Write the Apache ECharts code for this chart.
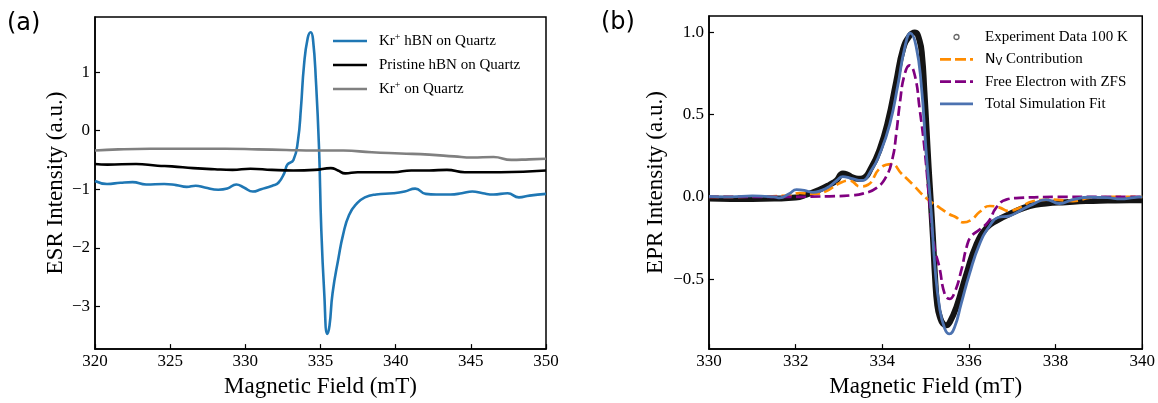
<!DOCTYPE html>
<html>
<head>
<meta charset="utf-8">
<script src="https://cdn.jsdelivr.net/npm/echarts@6/dist/echarts.min.js"></script>
<style>
  html, body { margin: 0; padding: 0; background: #fff; }
  #chart { width: 1158px; height: 403px; }
</style>
</head>
<body>
<div id="chart"></div>
<script>
// ---------- Panel (a): ESR spectra on quartz ----------
const fieldKrHbn = [320, 320.8, 321.7, 322.5, 323.4, 324.6, 325.4, 326.1, 326.7, 327.3,
  328.2, 328.8, 329.4, 329.9, 330.5, 331.05, 331.8, 332.2, 332.6, 332.8,
  333.2, 333.5, 333.7, 333.9, 334.15, 334.35, 334.5, 334.7, 334.9, 335.05,
  335.25, 335.45, 335.6, 335.8, 336.2, 336.5, 336.9, 337.4, 337.95, 338.7,
  339.85, 340.6, 341.3, 342.0, 342.7, 343.65, 344.4, 345.1, 345.8, 346.5,
  347.45, 348.2, 348.9, 350];
const esrKrHbn = [-0.86, -0.91, -0.89, -0.88, -0.92, -0.91, -0.93, -0.96, -0.94, -0.97,
  -1.01, -0.99, -0.92, -0.97, -1.04, -1.0, -0.94, -0.89, -0.72, -0.58,
  -0.50, -0.17, 0.39, 1.11, 1.58, 1.68, 1.56, 0.83, -0.28, -1.67,
  -2.78, -3.47, -3.33, -2.78, -2.17, -1.78, -1.44, -1.25, -1.14, -1.09,
  -1.07, -1.04, -0.99, -1.08, -1.09, -1.09, -1.07, -1.04, -1.07, -1.09,
  -1.07, -1.14, -1.11, -1.08];

const fieldPristine = [320, 320.83, 322.73, 324.16, 325.11, 326.54, 327.96, 329.15, 330.34, 331.77,
  333.19, 334.62, 335.69, 336.16, 336.64, 337.47, 338.90, 339.85, 341.04, 342.23,
  343.41, 344.60, 346.98, 350];
const esrPristine = [-0.57, -0.58, -0.57, -0.60, -0.61, -0.64, -0.66, -0.67, -0.65, -0.67,
  -0.68, -0.67, -0.64, -0.68, -0.73, -0.71, -0.71, -0.71, -0.68, -0.68,
  -0.67, -0.71, -0.71, -0.68];

const fieldKrQuartz = [320, 321.55, 323.68, 326.06, 328.68, 330.82, 332.72, 334.62, 336.52, 338.42,
  340.33, 342.23, 343.89, 345.08, 346.51, 347.69, 348.88, 350];
const esrKrQuartz = [-0.34, -0.32, -0.31, -0.31, -0.31, -0.32, -0.33, -0.34, -0.34, -0.37,
  -0.39, -0.41, -0.44, -0.46, -0.45, -0.50, -0.49, -0.48];

const ticksA_y = [-3, -2, -1, 0, 1];

// ---------- Panel (b): EPR at 100 K with simulated components ----------
const fieldExp = [330.0, 330.5, 331.0, 331.5, 332.0, 332.25, 332.55, 332.78, 332.94, 333.09,
  333.2, 333.28, 333.44, 333.55, 333.75, 333.94, 334.13, 334.32, 334.48, 334.63,
  334.75, 334.86, 334.92, 334.97, 335.02, 335.07, 335.12, 335.17, 335.22, 335.27,
  335.33, 335.40, 335.48, 335.56, 335.71, 335.94, 336.17, 336.40, 336.63, 337.01,
  337.40, 337.78, 338.24, 338.7, 339.2, 339.7, 340.0];
const eprExp = [-0.01, -0.012, -0.012, -0.01, -0.004, 0.014, 0.044, 0.074, 0.10, 0.143,
  0.135, 0.123, 0.11, 0.113, 0.18, 0.29, 0.46, 0.70, 0.90, 0.98,
  1.0, 0.95, 0.85, 0.65, 0.42, 0.18, -0.03, -0.25, -0.5, -0.66,
  -0.73, -0.77, -0.78, -0.76, -0.67, -0.47, -0.29, -0.19, -0.145, -0.095,
  -0.055, -0.04, -0.032, -0.025, -0.022, -0.02, -0.02];

const fieldNv = [330.0, 331.0, 331.8, 332.1, 332.4, 332.7, 333.01, 333.25, 333.48, 333.67,
  333.94, 334.21, 334.44, 334.71, 335.01, 335.32, 335.55, 335.71, 335.86, 336.05,
  336.25, 336.48, 336.71, 336.90, 337.17, 337.47, 337.94, 338.4, 338.8, 339.5, 340.0];
const eprNv = [0.0, 0.002, 0.008, 0.024, 0.018, 0.035, 0.083, 0.10, 0.064, 0.074,
  0.173, 0.20, 0.143, 0.074, -0.006, -0.065, -0.105, -0.125, -0.155, -0.14,
  -0.09, -0.055, -0.065, -0.085, -0.065, -0.026, -0.016, -0.025, -0.005, 0.0, 0.0];

const fieldZfs = [330.0, 331.5, 332.78, 333.3, 333.55, 333.86, 334.09, 334.24, 334.32, 334.41,
  334.51, 334.63, 334.75, 334.86, 334.98, 335.09, 335.2, 335.32, 335.44, 335.55,
  335.67, 335.82, 335.95, 336.05, 336.24, 336.45, 336.63, 336.86, 337.17, 338.0, 340.0];
const eprZfs = [0.0, 0.0, 0.004, 0.01, 0.02, 0.054, 0.123, 0.24, 0.38, 0.58,
  0.74, 0.80, 0.74, 0.54, 0.28, -0.036, -0.3, -0.43, -0.59, -0.62,
  -0.58, -0.45, -0.3, -0.24, -0.20, -0.15, -0.065, -0.016, -0.006, 0.0, 0.0];

const fieldFit = [330.0, 330.5, 331.0, 331.5, 331.63, 331.85, 332.02, 332.2, 332.4, 332.6,
  332.78, 332.95, 333.09, 333.28, 333.52, 333.75, 333.94, 334.17, 334.36, 334.51,
  334.65, 334.78, 334.90, 335.01, 335.13, 335.21, 335.32, 335.44, 335.55, 335.67,
  335.82, 336.01, 336.24, 336.48, 336.67, 336.94, 337.17, 337.47, 337.78, 338.09,
  338.40, 338.8, 339.2, 339.5, 339.8, 340.0];
const eprFit = [0.004, 0.0, 0.006, 0.0, -0.006, 0.02, 0.044, 0.04, 0.028, 0.04,
  0.064, 0.10, 0.123, 0.113, 0.10, 0.163, 0.262, 0.44, 0.68, 0.897,
  0.996, 0.917, 0.68, 0.282, -0.095, -0.41, -0.67, -0.80, -0.833, -0.79,
  -0.65, -0.47, -0.29, -0.175, -0.125, -0.115, -0.085, -0.045, -0.016, -0.04,
  -0.016, -0.002, -0.004, -0.012, -0.004, 0.0];

const ticksB_y = [-0.5, 0.0, 0.5, 1.0];

// ---------- styling helpers ----------
const SERIF = '"Liberation Serif", "Times New Roman", serif';
const SANS = '"DejaVu Sans", sans-serif';
const pairs = (xs, ys) => xs.map((x, i) => [x, ys[i]]);
const withMinus = s => s.replace('-', '\u2212');

function xAxisFor(grid, lo, hi, step, gap) {
  return {
    type: 'value', gridIndex: grid, min: lo, max: hi, interval: step,
    name: 'Magnetic Field (mT)', nameLocation: 'middle', nameGap: gap,
    nameTextStyle: { fontFamily: SERIF, fontSize: 23, color: '#000' },
    axisLine: { show: true, onZero: false, lineStyle: { color: '#000', width: 1.5 } },
    axisTick: { show: true, inside: true, length: 5, lineStyle: { color: '#000', width: 1.2 } },
    axisLabel: { fontFamily: SERIF, fontSize: 17, color: '#000', margin: 4 },
    splitLine: { show: false }
  };
}
function yAxisFor(grid, lo, hi, ticks, digits, title, gap) {
  const fmt = v => withMinus(Number(v).toFixed(digits));
  return {
    type: 'value', gridIndex: grid, min: lo, max: hi,
    name: title, nameLocation: 'middle', nameGap: gap, nameRotate: 90,
    nameTextStyle: { fontFamily: SERIF, fontSize: 23, color: '#000' },
    axisLine: { show: true, onZero: false, lineStyle: { color: '#000', width: 1.5 } },
    axisTick: { show: true, inside: true, length: 5, customValues: ticks,
      lineStyle: { color: '#000', width: 1.2 } },
    axisLabel: { fontFamily: SERIF, fontSize: 17, color: '#000', margin: 5,
      customValues: ticks, formatter: fmt },
    splitLine: { show: false }
  };
}
function lineSeries(name, xi, data, color, width, dashed, z) {
  return {
    name, type: 'line', xAxisIndex: xi, yAxisIndex: xi, data,
    symbol: 'none', smooth: 0.5, z,
    color,
    lineStyle: { color, width, type: dashed ? [10, 4.5] : 'solid', cap: 'butt', join: 'round' },
    emphasis: { disabled: true }
  };
}

const legendRich = {
  t: { fontFamily: SERIF, fontSize: 15, lineHeight: 18, color: '#000' },
  sup: { fontFamily: SERIF, fontSize: 10, lineHeight: 10, padding: [0, 0, 8, 0], color: '#000' },
  ns: { fontFamily: SANS, fontSize: 14, lineHeight: 18, color: '#000' },
  sub: { fontFamily: SANS, fontSize: 10, lineHeight: 12, padding: [6, 0, 0, 0], color: '#000' }
};
const legendLabels = {
  'Kr+ hBN on Quartz': '{t|Kr}{sup|+}{t| hBN on Quartz}',
  'Pristine hBN on Quartz': '{t|Pristine hBN on Quartz}',
  'Kr+ on Quartz': '{t|Kr}{sup|+}{t| on Quartz}',
  'Experiment Data 100 K': '{t|Experiment Data 100 K}',
  'NV Contribution': '{ns|N}{sub|V}{t| Contribution}',
  'Free Electron with ZFS': '{t|Free Electron with ZFS}',
  'Total Simulation Fit': '{t|Total Simulation Fit}'
};
const SOLID_ICON_A = 'path://M0,0h34v2.6h-34z';
const SOLID_ICON_B = 'path://M0,0h33v2.8h-33z';
const DASH_ICON = 'path://M0,0h11v2.8h-11zM15,0h11v2.8h-11zM30,0h3v2.8h-3z';

const C = {
  krHbn: '#1f77b4', pristine: '#000000', krQuartz: '#808080',
  exp: '#141414', nv: '#ff8c00', zfs: '#800080', fit: '#4c72b0'
};

const option = {
  backgroundColor: '#fff',
  animation: false,
  title: [
    { text: '(a)', left: 7, top: 12, padding: 0,
      textStyle: { fontFamily: SANS, fontSize: 24, fontWeight: 'normal', color: '#000', lineHeight: 24 } },
    { text: '(b)', left: 601, top: 11, padding: 0,
      textStyle: { fontFamily: SANS, fontSize: 24, fontWeight: 'normal', color: '#000', lineHeight: 24 } }
  ],
  grid: [
    { left: 95, top: 17, width: 451, height: 340, show: true, borderColor: '#000', borderWidth: 1.5 },
    { left: 709, top: 16, width: 434, height: 340, show: true, borderColor: '#000', borderWidth: 1.5 }
  ],
  xAxis: [
    xAxisFor(0, 320, 350, 5, 22),
    xAxisFor(1, 330, 340, 2, 22)
  ],
  yAxis: [
    yAxisFor(0, -3.73, 1.94, ticksA_y, 0, 'ESR Intensity (a.u.)', 28),
    yAxisFor(1, -0.925, 1.10, ticksB_y, 1, 'EPR Intensity (a.u.)', 42)
  ],
  legend: [
    {
      orient: 'vertical', left: 333, top: 32, padding: 0, itemGap: 6,
      itemWidth: 34, itemHeight: 5, selectedMode: false,
      formatter: n => legendLabels[n],
      textStyle: { fontFamily: SERIF, fontSize: 15, lineHeight: 18, color: '#000',
        padding: [0, 0, 0, 7], rich: legendRich },
      data: [
        { name: 'Kr+ hBN on Quartz', icon: SOLID_ICON_A, itemStyle: { color: C.krHbn, borderWidth: 0 } },
        { name: 'Pristine hBN on Quartz', icon: SOLID_ICON_A, itemStyle: { color: C.pristine, borderWidth: 0 } },
        { name: 'Kr+ on Quartz', icon: SOLID_ICON_A, itemStyle: { color: C.krQuartz, borderWidth: 0 } }
      ]
    },
    {
      orient: 'vertical', left: 940, top: 28, padding: 0, itemGap: 4.3,
      itemWidth: 33, itemHeight: 5, selectedMode: false,
      formatter: n => legendLabels[n],
      textStyle: { fontFamily: SERIF, fontSize: 15, lineHeight: 18, color: '#000',
        padding: [0, 0, 0, 7], rich: legendRich },
      data: [
        { name: 'Experiment Data 100 K', icon: 'circle',
          itemStyle: { color: '#fff', borderColor: '#666', borderWidth: 1.3 } },
        { name: 'NV Contribution', icon: DASH_ICON, itemStyle: { color: C.nv, borderWidth: 0 } },
        { name: 'Free Electron with ZFS', icon: DASH_ICON, itemStyle: { color: C.zfs, borderWidth: 0 } },
        { name: 'Total Simulation Fit', icon: SOLID_ICON_B, itemStyle: { color: C.fit, borderWidth: 0 } }
      ]
    }
  ],
  series: [
    lineSeries('Kr+ hBN on Quartz', 0, pairs(fieldKrHbn, esrKrHbn), C.krHbn, 2.6, false, 2),
    lineSeries('Pristine hBN on Quartz', 0, pairs(fieldPristine, esrPristine), C.pristine, 2.6, false, 3),
    lineSeries('Kr+ on Quartz', 0, pairs(fieldKrQuartz, esrKrQuartz), C.krQuartz, 2.6, false, 4),
    lineSeries('Experiment Data 100 K', 1, pairs(fieldExp, eprExp), C.exp, 6, false, 2),
    lineSeries('NV Contribution', 1, pairs(fieldNv, eprNv), C.nv, 2.7, true, 3),
    lineSeries('Free Electron with ZFS', 1, pairs(fieldZfs, eprZfs), C.zfs, 2.7, true, 4),
    lineSeries('Total Simulation Fit', 1, pairs(fieldFit, eprFit), C.fit, 2.8, false, 5)
  ]
};

const chart = echarts.init(document.getElementById('chart'), null, { renderer: 'canvas' });
chart.setOption(option);
</script>
</body>
</html>
